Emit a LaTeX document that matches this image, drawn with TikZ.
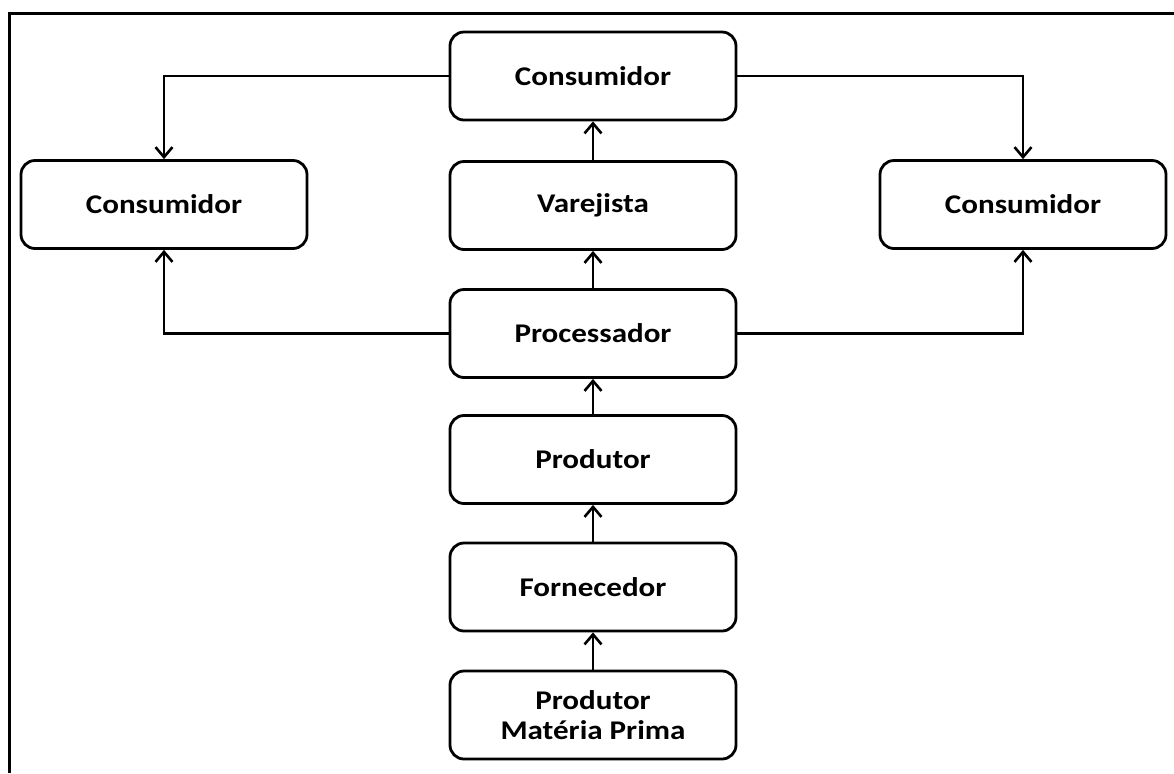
\documentclass[tikz,border=0pt]{standalone}
\usepackage{fontspec}
\setmainfont[FakeStretch=1.15]{Carlito}
\usetikzlibrary{arrows.meta}
\definecolor{ink}{HTML}{000000}
\newcommand\fsB{\fontsize{13.5}{14.7}\selectfont}

\begin{document}
\begin{tikzpicture}[x=0.5pt,y=-0.5pt,
  box/.style={draw=ink,line width=1.4pt,rounded corners=7pt,fill=white,
    minimum width=143pt,minimum height=44pt,inner sep=0,align=center,font=\fsB\bfseries},
  flow/.style={ink,line width=1.3pt,-{Straight Barb[length=5pt,width=8.5pt]}},
  frame/.style={ink,line width=1.1pt}]
\useasboundingbox (0,0) rectangle (1174,773);
\def\cx{593}   % centre column
\def\lx{164}\def\rx{1023}
% ============ frame ============
\draw[frame] (9.5,773) -- (9.5,13.5) -- (1174,13.5);
% ============ boxes ============
\node[box] (cons)  at (\cx,76)    {Consumidor};
\node[box] (var)   at (\cx,205.5) {Varejista};
\node[box] (consL) at (\lx,204.5) {Consumidor};
\node[box] (consR) at (\rx,204.5) {Consumidor};
\node[box] (proc)  at (\cx,333.5) {Processador};
\node[box] (prod)  at (\cx,459.5) {Produtor};
\node[box] (forn)  at (\cx,587)   {Fornecedor};
\node[box] (mp)    at (\cx,715)   {Produtor\\Matéria Prima};
% ============ chain ============
\draw[flow] (mp) -- (forn);
\draw[flow] (forn) -- (prod);
\draw[flow] (prod) -- (proc);
\draw[flow] (proc) -- (var);
\draw[flow] (var) -- (cons);
% side branches
\draw[flow] (cons.west) -| (consL.north);
\draw[flow] (cons.east) -| (consR.north);
\draw[flow] (proc.west) -| (consL.south);
\draw[flow] (proc.east) -| (consR.south);
\end{tikzpicture}
\end{document}
